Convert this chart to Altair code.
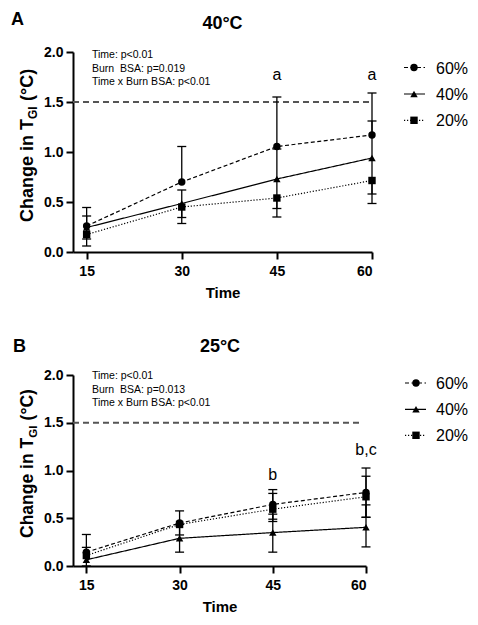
import altair as alt
import pandas as pd

FONT = "Liberation Sans"

times = [15, 30, 45, 60]
groups = ["60%", "40%", "20%"]

# ---------------- Panel A : 40°C ----------------
a_mean_60 = [0.26, 0.70, 1.055, 1.17]
a_hi_60 = [0.445, 1.055, 1.55, 1.59]
a_lo_60 = [0.26, 0.70, 1.055, 1.17]
a_mean_40 = [0.245, 0.485, 0.73, 0.94]
a_hi_40 = [0.36, 0.62, 1.03, 1.31]
a_lo_40 = [0.13, 0.345, 0.435, 0.58]
a_mean_20 = [0.175, 0.45, 0.54, 0.715]
a_hi_20 = [0.175, 0.45, 0.54, 0.715]
a_lo_20 = [0.06, 0.285, 0.35, 0.485]
a_stats = ["Time: p<0.01", "Burn\u00a0 BSA: p=0.019", "Time x Burn BSA: p<0.01"]
a_letters = ["a", "a"]
a_letter_times = [45, 60]
a_letter_y = [1.72, 1.72]

# ---------------- Panel B : 25°C ----------------
b_mean_60 = [0.145, 0.45, 0.645, 0.77]
b_hi_60 = [0.33, 0.577, 0.80, 1.026]
b_lo_60 = [0.145, 0.325, 0.49, 0.51]
b_mean_40 = [0.065, 0.29, 0.35, 0.405]
b_hi_40 = [0.195, 0.435, 0.543, 0.64]
b_lo_40 = [0.0, 0.145, 0.145, 0.20]
b_mean_20 = [0.11, 0.435, 0.595, 0.725]
b_hi_20 = [0.11, 0.435, 0.76, 0.94]
b_lo_20 = [0.11, 0.435, 0.466, 0.51]
b_stats = ["Time: p<0.01", "Burn\u00a0 BSA: p=0.013", "Time x Burn BSA: p<0.01"]
b_letters = ["b", "b,c"]
b_letter_times = [45, 60]
b_letter_y = [0.905, 1.158]

ref_level = 1.5
y_ticks = [0, 0.5, 1.0, 1.5, 2.0]

DASHES = {"60%": [4, 2.5], "40%": [1, 0], "20%": [1.2, 1.8]}
SHAPES = {"60%": "circle", "40%": "triangle-up", "20%": "square"}


def one():
    return alt.Chart(pd.DataFrame({"k": [0]}))


def text_at(txt, x, y, size, weight="normal", align="left", baseline="alphabetic", angle=0):
    kw = dict(text=txt, font=FONT, fontSize=size, fontWeight=weight, align=align,
              baseline=baseline, color="black")
    if angle:
        kw["angle"] = angle
    return one().mark_text(**kw).encode(x=alt.value(x), y=alt.value(y))


def panel(label, title, means, his, los, stats, letters, letter_times, letter_y, g):
    rows = []
    for grp in groups:
        for t, m, h, l in zip(times, means[grp], his[grp], los[grp]):
            rows.append(dict(time=t, group=grp, mean=m, hi=h, lo=l))
    df = pd.DataFrame(rows)

    xs = alt.Scale(domain=[12.85, 60], nice=False, zero=False)
    ys = alt.Scale(domain=[0, 2], nice=False, zero=True)
    xaxis = alt.Axis(values=times, title="Time", format="d")
    yaxis = alt.Axis(values=y_ticks, format=".1f", title=None)
    X = alt.X("time:Q", scale=xs, axis=xaxis)

    def Y(field):
        return alt.Y(field, scale=ys, axis=yaxis)

    dash = alt.StrokeDash("group:N", scale=alt.Scale(domain=groups, range=[DASHES[k] for k in groups]), legend=None)
    shape = alt.Shape("group:N", scale=alt.Scale(domain=groups, range=[SHAPES[k] for k in groups]), legend=None)

    base = alt.Chart(df)
    ref = alt.Chart(pd.DataFrame({"y": [ref_level]})).mark_rule(
        color="#555555", strokeDash=[6, 4], strokeWidth=1.8
    ).encode(y=Y("y:Q"), x=alt.value(0), x2=alt.value(g["ref_end"]))

    err = base.mark_rule(color="black", strokeWidth=1.3).encode(x=X, y=Y("lo:Q"), y2="hi:Q")
    cap_hi = base.transform_filter("datum.hi > datum.mean").mark_tick(
        orient="horizontal", color="black", thickness=1.3, size=9, opacity=1
    ).encode(x=X, y=Y("hi:Q"))
    cap_lo = base.transform_filter("datum.lo < datum.mean").mark_tick(
        orient="horizontal", color="black", thickness=1.3, size=9, opacity=1
    ).encode(x=X, y=Y("lo:Q"))
    lines = base.mark_line(color="black", strokeWidth=1.2).encode(
        x=X, y=Y("mean:Q"), strokeDash=dash, detail="group:N", order="time:Q"
    )
    pts = base.mark_point(filled=True, opacity=1, color="black", size=55).encode(
        x=X, y=Y("mean:Q"), shape=shape
    )

    let_df = pd.DataFrame({"time": letter_times, "y": letter_y, "letter": letters})
    lets = alt.Chart(let_df).mark_text(font=FONT, fontSize=16, color="black", baseline="alphabetic").encode(
        x=X, y=Y("y:Q"), text="letter:N"
    )

    layers = [ref, err, cap_hi, cap_lo, lines, pts, lets]

    # stats annotation
    for s, yy in zip(stats, g["stats_y"]):
        layers.append(text_at(s, g["stats_x"], yy, 10.5))

    # panel label and title
    layers.append(text_at(label, g["label_x"], g["label_y"], 18, "bold"))
    layers.append(text_at(title, g["title_x"], g["title_y"], 18, "bold", align="center"))

    # y axis title with subscript
    fs = g["ytitle_fs"]
    w1 = 5.723 * fs
    sub_fs = fs * 0.66
    w2 = 1.056 * sub_fs
    y0 = g["ytitle_start"]
    bx = g["ytitle_x"]
    layers.append(text_at("Change in T", bx, y0, fs, "bold", angle=270))
    layers.append(text_at("GI", bx + 3.5, y0 - w1, sub_fs, "bold", angle=270))
    layers.append(text_at("(°C)", bx, y0 - w1 - w2 - 0.3 * fs, fs, "bold", angle=270))

    # legend
    for i, grp in enumerate(groups):
        ly = g["leg_y"][i]
        layers.append(
            one().mark_rule(color="black", strokeWidth=1.2, strokeDash=DASHES[grp]).encode(
                x=alt.value(g["leg_x0"]), x2=alt.value(g["leg_x1"]), y=alt.value(ly)
            )
        )
        layers.append(
            one().mark_point(shape=SHAPES[grp], filled=True, opacity=1, color="black", size=55).encode(
                x=alt.value(g["leg_m"]), y=alt.value(ly)
            )
        )
        layers.append(text_at(grp, g["leg_t"], ly + 1, 16, baseline="middle"))

    return alt.layer(*layers).properties(width=g["w"], height=g["h"])


geo_a = dict(w=299, h=200, ref_end=299, stats_x=19, stats_y=[5.8, 19.5, 33.4],
             label_x=-62, label_y=-26.8, title_x=149.5, title_y=-23.3,
             ytitle_fs=18, ytitle_x=-40, ytitle_start=170,
             leg_y=[15.5, 42, 68.3], leg_x0=331, leg_x1=352, leg_m=341, leg_t=363)
geo_b = dict(w=293, h=191, ref_end=290, stats_x=19, stats_y=[3.6, 17.8, 31.3],
             label_x=-60, label_y=-23.3, title_x=147, title_y=-23.3,
             ytitle_fs=17.5, ytitle_x=-40, ytitle_start=163,
             leg_y=[8, 34.3, 60.3], leg_x0=332, leg_x1=353, leg_m=343, leg_t=363)

chart_a = panel("A", "40°C",
                {"60%": a_mean_60, "40%": a_mean_40, "20%": a_mean_20},
                {"60%": a_hi_60, "40%": a_hi_40, "20%": a_hi_20},
                {"60%": a_lo_60, "40%": a_lo_40, "20%": a_lo_20},
                a_stats, a_letters, a_letter_times, a_letter_y, geo_a)
chart_b = panel("B", "25°C",
                {"60%": b_mean_60, "40%": b_mean_40, "20%": b_mean_20},
                {"60%": b_hi_60, "40%": b_hi_40, "20%": b_hi_20},
                {"60%": b_lo_60, "40%": b_lo_40, "20%": b_lo_20},
                b_stats, b_letters, b_letter_times, b_letter_y, geo_b)

chart = alt.vconcat(chart_a, chart_b, spacing=37).properties(
    padding={"left": 3, "top": 3, "right": 0, "bottom": 0}
).configure_view(
    stroke=None
).configure_axis(
    domainColor="black", domainWidth=2, tickColor="black", tickWidth=2, tickSize=7,
    labelFont=FONT, labelFontSize=14, labelFontWeight="bold", labelColor="black",
    titleFont=FONT, titleFontSize=15, titleFontWeight="bold", titleColor="black", grid=False
).configure_axisX(labelPadding=5, titlePadding=7).configure_axisY(labelPadding=3)

chart.save("out.html", embed_options={"renderer": "svg", "actions": False})
